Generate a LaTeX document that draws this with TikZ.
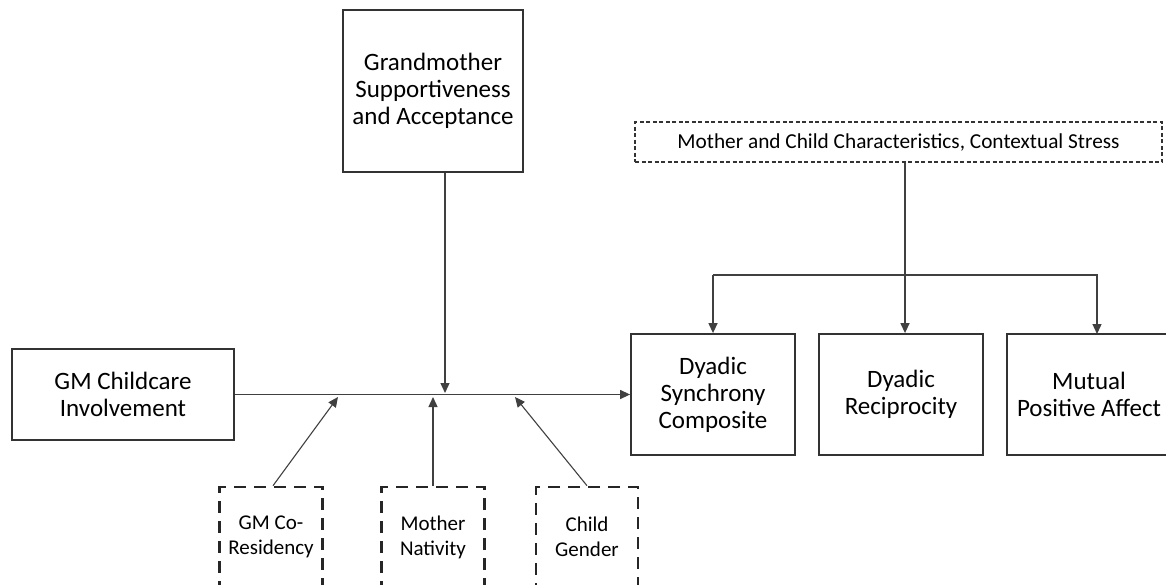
\documentclass[tikz,border=0pt]{standalone}
\usepackage{fontspec}
\setmainfont{Carlito}
\usetikzlibrary{arrows.meta, positioning}

\begin{document}
\begin{tikzpicture}[
    x=1pt, y=-1pt,
    >={Triangle[length=10pt, width=9pt]},
    box/.style={draw=black!80, line width=1.8pt, inner sep=0pt,
                align=center, font=\fontsize{25}{27}\selectfont},
    dbox/.style={draw=black!85, line width=2.6pt, dash pattern=on 12pt off 8pt,
                 inner sep=0pt, align=center, minimum width=103pt,
                 minimum height=100pt, font=\fontsize{21}{25}\selectfont},
    cbox/.style={draw=black!80, line width=1.4pt, dash pattern=on 4pt off 2.5pt,
                 inner sep=0pt, font=\fontsize{21.3}{24}\selectfont},
    link/.style={->, draw=black!75, line width=1.3pt}
  ]
  \useasboundingbox (0,0) rectangle (1166,584);

  \node[box, minimum width=180pt, minimum height=162pt] (gmsupport) at (433,91)
    {Grandmother\\Supportiveness\\and Acceptance};
  \node[cbox, minimum width=527pt, minimum height=40pt] (context) at (898.5,142)
    {Mother and Child Characteristics, Contextual Stress};
  \node[box, minimum width=222pt, minimum height=91pt] (gmcare) at (123,394.5)
    {GM Childcare\\Involvement};

  \node[box, minimum width=164pt, minimum height=121pt] (synchrony) at (713,394.5)
    {Dyadic\\Synchrony\\Composite};
  \node[box, minimum width=164pt, minimum height=121pt, right=22.2pt of synchrony]
    (reciprocity) {Dyadic\\Reciprocity};
  \node[box, minimum width=164pt, minimum height=121pt, right=22.2pt of reciprocity]
    (affect) {Mutual\\Positive Affect};

  \node[dbox] (coresid) at (271,537) {GM Co-\\Residency};
  \node[dbox] (nativity) at (433,537) {Mother\\Nativity};
  \node[dbox, minimum width=102pt] (gender) at (587,537) {Child\\Gender};

  % moderators onto the main path
  \coordinate (mA) at (338,397);
  \coordinate (mB) at (433,397);
  \coordinate (mC) at (515,397);
  \coordinate (mTop) at (445,393);
  \coordinate (split) at (905,275);

  \draw[link] (gmcare) -- (synchrony);
  \draw[link] ([xshift=12pt]gmsupport.south) -- (mTop);
  \draw[link, line width=1.1pt] ([xshift=2pt]coresid.north) -- (mA);
  \draw[link] (nativity.north) -- (mB);
  \draw[link, line width=1.1pt] (gender.north) -- (mC);

  % covariates
  \draw[link] ([xshift=6.5pt]context.south) -- (split) -- (split |- reciprocity.north);
  \draw[link, -] (split) -- (synchrony.north |- split);
  \draw[link] (synchrony.north |- split) -- (synchrony.north);
  \draw[link] (split) -- (1097,275) -- (1097,334);
\end{tikzpicture}
\end{document}
